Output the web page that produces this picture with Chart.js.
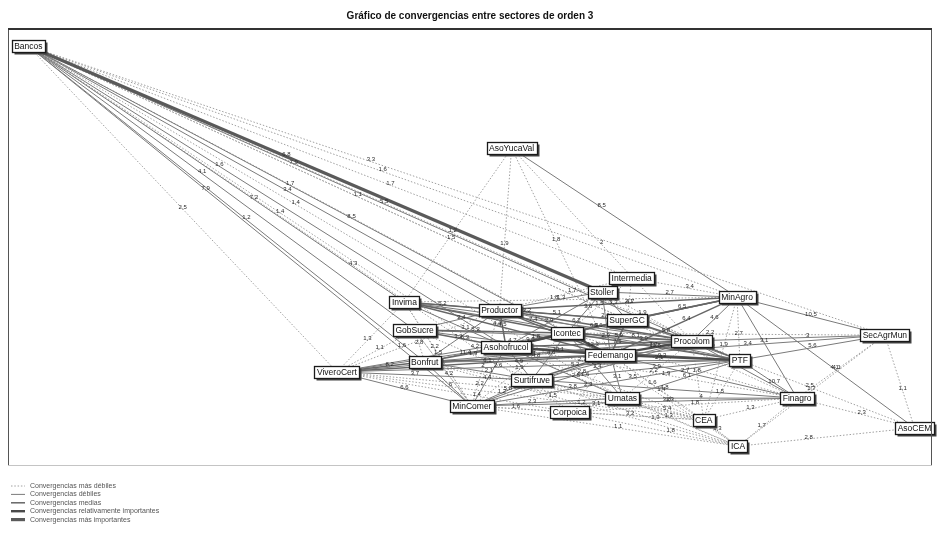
<!DOCTYPE html>
<html><head><meta charset="utf-8">
<script src="https://cdn.jsdelivr.net/npm/chart.js@4/dist/chart.umd.min.js"></script>
<style>html,body{margin:0;padding:0;background:#fff}canvas{display:block}</style>
</head><body>
<canvas id="c" width="938" height="545"></canvas>
<script>
// ---- nodes (layout coordinates, 0-100) ----
const nodeNames = ["Bancos","AsoYucaVal","Intermedia","Stoller","MinAgro","Invima","Productor","SuperGC","Icontec","GobSucre","SecAgrMun","Procolom","Asohofrucol","Fedemango","PTF","Bonfrut","ViveroCert","Surtifruve","Finagro","Umatas","MinComer","Corpoica","CEA","AsoCEM","ICA"];
const nodeX = [2.2,54.5,67.5,64.3,78.9,42.9,53.2,67.0,60.5,44.0,94.9,74.0,53.9,65.2,79.2,45.1,35.6,56.7,85.4,66.5,50.2,60.8,75.3,98.1,79.0];
const nodeY = [95.9,72.5,42.8,39.6,38.4,37.3,35.5,33.2,30.2,30.9,29.7,28.4,27.0,25.2,24.0,23.6,21.3,19.5,15.3,15.3,13.5,12.1,10.3,8.5,4.3];

// ---- edges ----
const edgeFrom = [
 "Bancos","Bancos","Bancos","Bancos","Bancos","Bancos","Bancos","Bancos","Bancos","Bancos","Bancos","Bancos","Bancos","Bancos","Bancos","Bancos","Bancos","Bancos","Bancos","Bancos",
 "AsoYucaVal","AsoYucaVal","AsoYucaVal","AsoYucaVal","AsoYucaVal",
 "Invima","Invima","Invima","Invima","Invima","Invima","Invima","Invima","Invima",
 "GobSucre","GobSucre","GobSucre","GobSucre","GobSucre","GobSucre","GobSucre","GobSucre",
 "ViveroCert","ViveroCert","ViveroCert","ViveroCert","ViveroCert","ViveroCert","ViveroCert","ViveroCert","ViveroCert","ViveroCert","ViveroCert","ViveroCert","ViveroCert","ViveroCert",
 "Bonfrut","Bonfrut","Bonfrut","Bonfrut","Bonfrut","Bonfrut","Bonfrut","Bonfrut","Bonfrut","Bonfrut","Bonfrut",
 "MinComer","MinComer","MinComer","MinComer","MinComer","MinComer","MinComer","MinComer","MinComer","MinComer","MinComer","MinComer","MinComer","MinComer",
 "Productor","Productor","Productor","Productor","Productor","Productor","Productor","Productor","Productor",
 "Asohofrucol","Asohofrucol","Asohofrucol","Asohofrucol","Asohofrucol","Asohofrucol","Asohofrucol","Asohofrucol","Asohofrucol","Asohofrucol","Asohofrucol","Asohofrucol",
 "Icontec","Icontec","Icontec","Icontec","Icontec","Icontec","Icontec","Icontec","Icontec","Icontec","Icontec","Icontec",
 "Fedemango","Fedemango","Fedemango","Fedemango","Fedemango","Fedemango","Fedemango","Fedemango","Fedemango","Fedemango","Fedemango","Fedemango",
 "SuperGC","SuperGC","SuperGC","SuperGC","SuperGC",
 "Stoller","Stoller","Stoller","Intermedia",
 "Procolom","Procolom","Procolom","Procolom","Procolom","Procolom",
 "MinAgro","MinAgro","MinAgro","MinAgro","MinAgro",
 "PTF","PTF","PTF","PTF","PTF",
 "Surtifruve","Surtifruve","Surtifruve","Surtifruve","Surtifruve","Surtifruve","Surtifruve",
 "Umatas","Umatas","Umatas","Umatas",
 "Corpoica","Corpoica","Corpoica","CEA","CEA",
 "Finagro","Finagro","Finagro","ICA","ICA","SecAgrMun"];
const edgeTo = [
 "SecAgrMun","MinAgro","Intermedia","Stoller","SuperGC","Procolom","PTF","Icontec","Fedemango","Productor","Asohofrucol","Surtifruve","Invima","GobSucre","Bonfrut","MinComer","ViveroCert","Corpoica","Umatas","Finagro",
 "MinAgro","Procolom","Productor","Fedemango","Invima",
 "Productor","Icontec","Asohofrucol","Fedemango","SuperGC","Procolom","MinComer","PTF","MinAgro",
 "Asohofrucol","Icontec","Fedemango","Procolom","Bonfrut","Productor","MinComer","Surtifruve",
 "Bonfrut","Asohofrucol","Fedemango","Surtifruve","MinComer","Icontec","Invima","GobSucre","Productor","Umatas","Corpoica","CEA","Procolom","PTF",
 "Asohofrucol","Fedemango","Icontec","MinComer","Procolom","PTF","Surtifruve","Productor","SuperGC","CEA","ICA",
 "Surtifruve","Asohofrucol","Fedemango","Umatas","Icontec","Finagro","Corpoica","Invima","GobSucre","Procolom","PTF","CEA","ICA","Productor",
 "Icontec","Stoller","SuperGC","MinAgro","Procolom","Fedemango","PTF","Asohofrucol","Intermedia",
 "Icontec","Fedemango","Procolom","PTF","SuperGC","MinAgro","Surtifruve","Umatas","Stoller","Finagro","CEA","ICA",
 "Fedemango","SuperGC","Procolom","MinAgro","PTF","Stoller","Surtifruve","Umatas","Finagro","Intermedia","ICA","SecAgrMun",
 "Procolom","PTF","SuperGC","MinAgro","Surtifruve","Umatas","Finagro","SecAgrMun","Stoller","CEA","Corpoica","ICA",
 "MinAgro","Procolom","PTF","Stoller","Intermedia",
 "MinAgro","Intermedia","Procolom","MinAgro",
 "PTF","MinAgro","SecAgrMun","Finagro","Umatas","CEA",
 "SecAgrMun","PTF","Finagro","AsoCEM","CEA",
 "SecAgrMun","Finagro","Umatas","CEA","AsoCEM",
 "Finagro","PTF","Umatas","Corpoica","Procolom","CEA","ICA",
 "Finagro","CEA","ICA","Corpoica",
 "ICA","CEA","Finagro","ICA","Finagro",
 "ICA","SecAgrMun","AsoCEM","AsoCEM","SecAgrMun","AsoCEM"];
const edgeValue = [
 3.3,1.6,1.7,6.8,1.1,7.9,5.5,8.5,1.7,3.4,1.6,1.4,7.2,4.1,1.2,7.9,2.5,4.3,1.4,1.5,
 8.5,2,1.9,1.8,1.2,
 6.2,5.7,3.1,4.4,2.2,3.6,1.5,2.9,1.8,
 6.3,5.2,4.7,3.3,2.8,2.4,3.9,1.9,
 8.2,5.4,6.1,3.7,6.6,4.2,1.3,1.1,1.6,2.2,1.4,1.2,3.1,2.6,
 11.4,4.8,5.0,6,3.9,2.7,2.1,3.2,1.8,1.4,1.2,
 5.8,4.4,3.4,2.3,1.9,3.8,1.6,2.2,4.2,2.8,3.5,1.3,1.1,2,
 7.4,1.3,5.1,4.7,6.2,5.3,3.9,4.5,1.7,
 9.6,10.1,7.5,6.9,4.2,5.6,4.9,2.5,2.9,1.9,1.6,1.2,
 12.3,6.3,8.1,5.4,7.7,3.6,4.6,2.4,2.1,1.5,1.3,2.2,
 11.8,9.3,5.9,6.4,5.2,3.1,2.7,3.4,2.6,1.6,2.3,1.4,
 6.5,5.8,4.1,3.3,2.1,
 2.7,2.4,1.9,3.4,
 6.3,4.6,3,2.8,2.2,1.8,
 10.5,2.7,3.1,4.1,1.9,
 5.6,10.7,6.1,1.5,2.5,
 4.8,3.9,3.8,1.5,2.9,1.7,1.3,
 4,5.4,1.3,3.1,
 1.8,3.2,1.8,1.3,1.3,
 1.7,4.1,2.3,2.8,1.7,1.1];
const edgeLevel = [
 1,1,1,5,1,2,1,2,1,2,2,1,2,2,2,2,1,1,1,1,
 2,1,1,1,1,
 3,3,2,3,2,2,1,2,1,
 3,3,2,2,1,2,1,1,
 3,2,3,2,2,2,1,1,1,1,1,1,2,2,
 3,3,2,2,2,2,2,2,1,1,1,
 2,2,2,2,1,2,1,1,1,2,2,1,1,1,
 3,2,3,3,3,3,2,3,1,
 4,4,3,3,2,2,2,2,2,1,1,1,
 4,3,3,3,3,2,2,2,1,1,1,1,
 4,4,3,3,3,2,2,2,2,1,1,1,
 3,3,2,2,1,
 2,1,1,1,
 3,2,2,2,1,1,
 2,1,2,2,1,
 2,2,2,1,1,
 2,2,2,1,2,1,1,
 2,1,1,1,
 1,1,1,1,1,
 1,1,1,1,1,1];

const levelNames = ["Convergencias más débiles","Convergencias débiles","Convergencias medias","Convergencias relativamente importantes","Convergencias más importantes"];
const chartTitle = "Gráfico de convergencias entre sectores de orden 3";

const FONT = "'Liberation Sans Narrow','Arial Narrow','Liberation Sans',Arial,sans-serif";
const levelStyle = {
 1:{color:'#a0a0a0',width:1,dash:[1.5,1.8]},
 2:{color:'#7a7a7a',width:1,dash:[]},
 3:{color:'#666666',width:1.5,dash:[]},
 4:{color:'#4a4a4a',width:2.4,dash:[]},
 5:{color:'#5a5a5a',width:3.2,dash:[]}
};

const idx = n => nodeNames.indexOf(n);
const datasets = [];
edgeFrom.forEach((f,i)=>{
  const a=idx(f), b=idx(edgeTo[i]); const st=levelStyle[edgeLevel[i]];
  datasets.push({
    label:'e'+i, data:[{x:nodeX[a],y:nodeY[a]},{x:nodeX[b],y:nodeY[b]}],
    showLine:true, borderColor:st.color, borderWidth:st.width, borderDash:st.dash,
    pointRadius:0, pointHoverRadius:0, order:10-edgeLevel[i]
  });
});
datasets.push({label:'nodes', data:nodeNames.map((n,i)=>({x:nodeX[i],y:nodeY[i]})), pointRadius:0, showLine:false, order:-1});

const decor = {
  id:'decor',
  afterDatasetsDraw(chart){
    const ctx=chart.ctx, xs=chart.scales.x, ys=chart.scales.y;
    ctx.save();
    ctx.font = "6px "+FONT; ctx.fillStyle='#2a2a2a'; ctx.textAlign='center'; ctx.textBaseline='middle';
    edgeFrom.forEach((f,i)=>{
      const a=idx(f), b=idx(edgeTo[i]);
      const t = 0.40 + 0.05*((i*7)%5);
      const px = xs.getPixelForValue(nodeX[a]+(nodeX[b]-nodeX[a])*t);
      const py = ys.getPixelForValue(nodeY[a]+(nodeY[b]-nodeY[a])*t);
      ctx.fillText(String(edgeValue[i]).replace('.',','), px, py-2);
    });
    ctx.font = "8.5px "+FONT; ctx.textBaseline='middle'; ctx.textAlign='center';
    nodeNames.forEach((n,i)=>{
      const px=xs.getPixelForValue(nodeX[i]), py=ys.getPixelForValue(nodeY[i]);
      const w=Math.round(ctx.measureText(n).width+5), h=12;
      const x0=Math.round(px-w/2)+0.5, y0=Math.round(py-h/2)+0.5;
      ctx.fillStyle='#444'; ctx.fillRect(x0+2,y0+2,w,h);
      ctx.fillStyle='#ffffff'; ctx.fillRect(x0,y0,w,h);
      ctx.strokeStyle='#1a1a1a'; ctx.lineWidth=1.3; ctx.strokeRect(x0,y0,w,h);
      ctx.fillStyle='#111'; ctx.fillText(n, px, py+0.5);
    });
    ctx.restore();
  },
  afterDraw(chart){
    const ctx=chart.ctx, ca=chart.chartArea;
    ctx.save();
    ctx.strokeStyle='#c4c4c4'; ctx.lineWidth=1;
    ctx.beginPath(); ctx.moveTo(ca.left,ca.bottom+0.5); ctx.lineTo(ca.right,ca.bottom+0.5); ctx.stroke();
    ctx.strokeStyle='#555'; ctx.lineWidth=1;
    ctx.beginPath(); ctx.moveTo(ca.left+0.5,ca.top); ctx.lineTo(ca.left+0.5,ca.bottom); ctx.moveTo(ca.right-0.5,ca.top); ctx.lineTo(ca.right-0.5,ca.bottom); ctx.stroke();
    ctx.strokeStyle='#333'; ctx.lineWidth=2;
    ctx.beginPath(); ctx.moveTo(ca.left,ca.top+1); ctx.lineTo(ca.right,ca.top+1); ctx.stroke();
    ctx.font="7px "+FONT; ctx.textAlign='left'; ctx.textBaseline='middle';
    levelNames.forEach((name,i)=>{
      const y = ca.bottom + 21 + i*8.4;
      const st=levelStyle[i+1];
      ctx.strokeStyle=st.color; ctx.lineWidth=st.width; ctx.setLineDash(st.dash);
      ctx.beginPath(); ctx.moveTo(ca.left+3,y); ctx.lineTo(ca.left+17,y); ctx.stroke();
      ctx.setLineDash([]);
      ctx.fillStyle='#555'; ctx.fillText(name, ca.left+22, y);
    });
    ctx.restore();
  }
};

new Chart(document.getElementById('c'), {
  type:'scatter',
  data:{datasets},
  options:{
    responsive:false, animation:false, devicePixelRatio:1,
    layout:{padding:{left:8,right:6,top:0,bottom:80}},
    scales:{
      x:{type:'linear',min:0,max:100,display:false},
      y:{type:'linear',min:0,max:100,display:false}
    },
    plugins:{
      legend:{display:false}, tooltip:{enabled:false},
      title:{display:true,text:chartTitle,color:'#111',font:{family:FONT,size:10,weight:'bold'},padding:{top:10,bottom:6}}
    },
    events:[]
  },
  plugins:[decor]
});
</script>
</body></html>
